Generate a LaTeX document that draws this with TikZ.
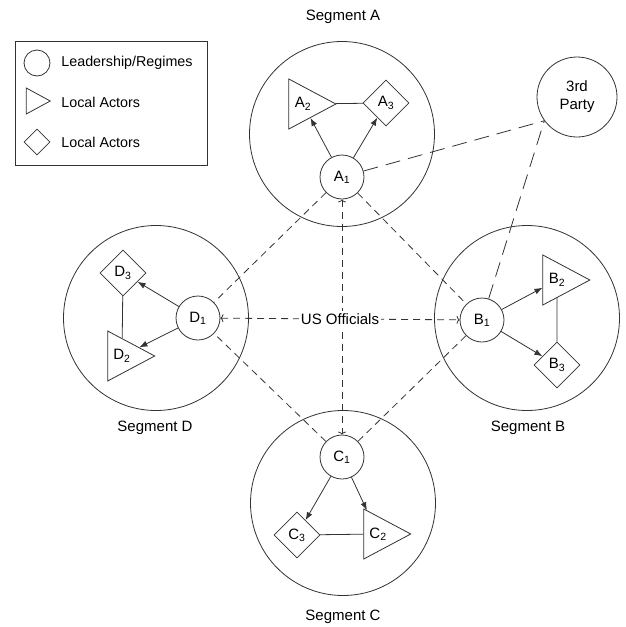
\documentclass[tikz,border=0pt]{standalone}
\usepackage{fontspec}
\setmainfont{Liberation Sans}
\usepackage{tikz}
\usetikzlibrary{calc, shapes.geometric, positioning, arrows, arrows.meta}

\tikzset{
  leader/.style={circle, draw, fill=white, minimum size=44pt, inner sep=0pt},
  actortri/.style={isosceles triangle, isosceles triangle stretches, draw, fill=white,
    minimum width=50pt, minimum height=47pt, inner sep=0pt},
  actordia/.style={diamond, draw, fill=white, minimum size=46pt, inner sep=0pt},
  segment/.style={circle, draw, minimum size=185pt, inner sep=0pt},
  link/.style={dash pattern=on 7pt off 5pt},
  longlink/.style={dash pattern=on 15pt off 8pt},
  solidarrow/.style={-{Latex[length=8pt, width=6pt]}},
  usarrow/.style={{To[length=3pt, width=8pt]}-{To[length=3pt, width=8pt]}},
}

\begin{document}
\begin{tikzpicture}[x=1pt, y=-1pt, line width=0.8pt, draw=black!80, font=\fontsize{15}{18}\selectfont]
\useasboundingbox (0,0) rectangle (626,627);

% legend
\draw (15,41) rectangle (207,165);
\draw (37,63) circle (13);
\node[isosceles triangle, isosceles triangle stretches, draw, minimum width=26pt, minimum height=24pt, inner sep=0pt] (keytri) at (34,101) {};
\node[diamond, draw, minimum size=26pt, inner sep=0pt] (keydia) at (37,142) {};
\begin{scope}[font=\fontsize{14.3}{17}\selectfont]
\node[anchor=west, inner sep=0pt] (keyA) at (61,63) {Leadership/Regimes};
\node[anchor=west, inner sep=0pt] (keyB) at (61,102) {Local Actors};
\node[anchor=west, inner sep=0pt] (keyC) at (61,142) {Local Actors};
\end{scope}

% segments
\node[segment] (segA) at (342,134) {};
\node[segment] (segB) at (527,318) {};
\node[segment] (segC) at (343,503) {};
\node[segment] (segD) at (156,318) {};
\node (labA) at (343,17) {Segment A};
\node (labB) at (528,428) {Segment B};
\node (labC) at (343,617) {Segment C};
\node (labD) at (155,428) {Segment D};

\node[circle, draw, minimum size=80pt, align=center, inner sep=0pt] (party) at (577,97) {3rd\\Party};

% actors
\node[leader] (A1) at (342,177) {A\textsubscript{1}};
\node[actortri] (A2) at (303,104) {A\textsubscript{2}};
\node[actordia] (A3) at (386,103) {A\textsubscript{3}};
\node[leader] (B1) at (482,320) {B\textsubscript{1}};
\node[actortri] (B2) at (557,280) {B\textsubscript{2}};
\node[actordia] (B3) at (557,365) {B\textsubscript{3}};
\node[leader] (C1) at (342,457) {C\textsubscript{1}};
\node[actortri] (C2) at (378,534) {C\textsubscript{2}};
\node[actordia] (C3) at (297,535) {C\textsubscript{3}};
\node[leader] (D1) at (198,318) {D\textsubscript{1}};
\node[actortri] (D2) at (122,356) {D\textsubscript{2}};
\node[actordia] (D3) at (123,273) {D\textsubscript{3}};

\foreach \s in {A,B,C,D} {
  \draw[solidarrow] (\s1) -- (\s2);
  \draw[solidarrow] (\s1) -- (\s3);
  \draw (\s2) -- (\s3);
}

% links between segments
\foreach \a/\b in {A1/D1, A1/B1, C1/D1, C1/B1}
  \draw[link] (\a) -- (\b);
\draw[link, usarrow] (A1) -- (C1);
\draw[link, usarrow] (D1) -- node[fill=white, inner sep=2pt] (us) {US Officials} (B1);
\draw[longlink] (A1) -- (party.216);
\draw[longlink] (B1) -- (party.216);
\end{tikzpicture}
\end{document}
